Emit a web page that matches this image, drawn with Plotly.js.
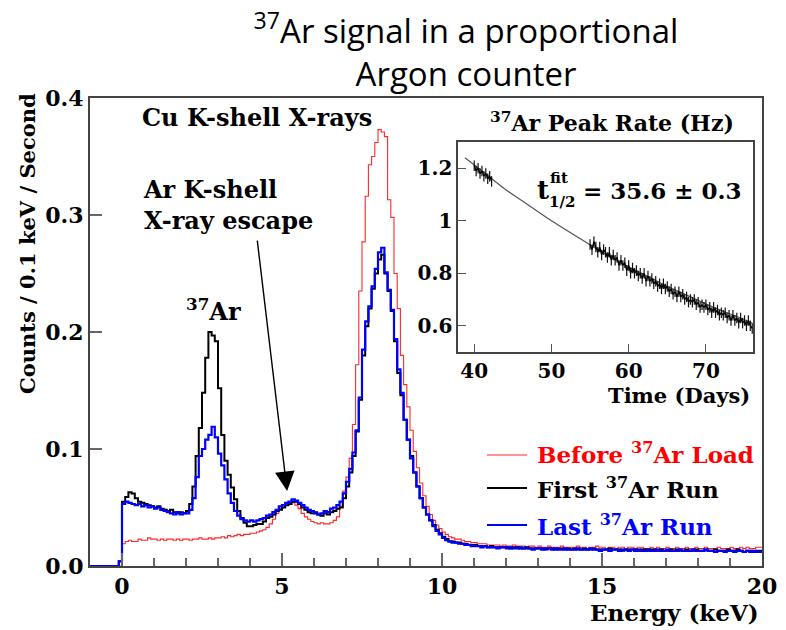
<!DOCTYPE html>
<html><head><meta charset="utf-8">
<script src="https://cdn.plot.ly/plotly-3.0.1.min.js"></script>
<style>body{margin:0;padding:0;background:#fff}#chart{width:786px;height:630px}</style>
</head><body><div id="chart"></div>
<script>
// ---- Histogram data: 0.1 keV bins starting at -1.0 keV (rows = 1 keV) ----
const binStart = -1.0;
const binWidth = 0.1;
const beforeLoad = [
 0,0,0,0,0,0,0,0,0,0,
 0.019,0.021,0.022,0.021,0.021,0.023,0.022,0.022,0.024,0.023,
 0.023,0.022,0.023,0.022,0.023,0.023,0.022,0.023,0.022,0.023,
 0.023,0.022,0.023,0.023,0.024,0.023,0.023,0.024,0.023,0.024,
 0.024,0.025,0.024,0.026,0.025,0.026,0.027,0.026,0.027,0.027,
 0.028,0.028,0.029,0.030,0.031,0.033,0.036,0.040,0.045,0.049,
 0.052,0.054,0.055,0.054,0.052,0.049,0.045,0.042,0.040,0.038,
 0.037,0.036,0.037,0.036,0.036,0.037,0.039,0.042,0.051,0.064,
 0.076,0.092,0.121,0.172,0.235,0.277,0.316,0.343,0.350,0.362,
 0.373,0.371,0.367,0.313,0.298,0.250,0.220,0.180,0.155,0.136,
 0.116,0.098,0.084,0.071,0.060,0.051,0.044,0.039,0.035,0.032,
 0.029,0.027,0.025,0.024,0.023,0.023,0.022,0.021,0.021,0.020,
 0.020,0.019,0.019,0.019,0.018,0.018,0.018,0.018,0.017,0.018,
 0.017,0.017,0.018,0.017,0.017,0.017,0.016,0.017,0.017,0.016,
 0.017,0.016,0.016,0.017,0.016,0.016,0.016,0.017,0.016,0.016,
 0.016,0.016,0.017,0.016,0.016,0.015,0.016,0.016,0.017,0.016,
 0.016,0.015,0.016,0.016,0.015,0.016,0.016,0.015,0.016,0.016,
 0.015,0.016,0.016,0.015,0.015,0.016,0.015,0.016,0.015,0.015,
 0.016,0.015,0.015,0.016,0.015,0.015,0.016,0.015,0.015,0.016,
 0.015,0.015,0.016,0.015,0.015,0.015,0.016,0.015,0.015,0.015,
 0.016,0.015,0.015,0.016,0.015,0.016,0.015,0.015,0.016,0.016
];
const firstRun = [
 0,0,0,0,0,0,0,0,0,0.004,
 0.055,0.059,0.063,0.062,0.058,0.055,0.054,0.053,0.052,0.051,
 0.050,0.051,0.049,0.048,0.047,0.048,0.046,0.045,0.046,0.045,
 0.047,0.053,0.068,0.094,0.118,0.148,0.178,0.200,0.197,0.192,
 0.152,0.112,0.090,0.078,0.067,0.057,0.047,0.041,0.037,0.034,
 0.034,0.035,0.036,0.036,0.038,0.041,0.042,0.044,0.047,0.048,
 0.050,0.052,0.053,0.055,0.055,0.053,0.050,0.048,0.046,0.045,
 0.046,0.044,0.043,0.045,0.044,0.046,0.047,0.049,0.050,0.058,
 0.068,0.080,0.094,0.115,0.142,0.180,0.205,0.220,0.237,0.250,
 0.262,0.266,0.250,0.235,0.218,0.192,0.165,0.146,0.125,0.108,
 0.094,0.080,0.068,0.058,0.050,0.044,0.039,0.035,0.031,0.028,
 0.025,0.023,0.021,0.021,0.020,0.020,0.019,0.019,0.018,0.018,
 0.018,0.017,0.017,0.017,0.016,0.017,0.016,0.016,0.016,0.016,
 0.016,0.015,0.016,0.016,0.015,0.015,0.016,0.015,0.015,0.015,
 0.015,0.015,0.014,0.015,0.015,0.014,0.015,0.015,0.014,0.015,
 0.014,0.015,0.014,0.014,0.015,0.014,0.014,0.015,0.014,0.014,
 0.014,0.014,0.015,0.014,0.014,0.014,0.013,0.014,0.014,0.014,
 0.014,0.013,0.014,0.014,0.013,0.014,0.014,0.013,0.014,0.013,
 0.013,0.014,0.013,0.014,0.013,0.013,0.014,0.013,0.013,0.014,
 0.013,0.013,0.014,0.013,0.013,0.014,0.013,0.013,0.013,0.014,
 0.013,0.013,0.014,0.013,0.012,0.013,0.013,0.012,0.013,0.013
];
const lastRun = [
 0,0,0,0,0,0,0,0,0,0.004,
 0.053,0.055,0.054,0.053,0.052,0.053,0.051,0.052,0.050,0.051,
 0.049,0.050,0.048,0.047,0.046,0.045,0.044,0.046,0.044,0.045,
 0.045,0.048,0.058,0.076,0.094,0.100,0.108,0.112,0.119,0.110,
 0.096,0.086,0.074,0.062,0.054,0.047,0.043,0.040,0.039,0.038,
 0.039,0.038,0.039,0.040,0.041,0.043,0.044,0.046,0.048,0.051,
 0.052,0.054,0.055,0.057,0.056,0.054,0.052,0.050,0.048,0.047,
 0.045,0.044,0.045,0.047,0.046,0.049,0.050,0.052,0.055,0.062,
 0.072,0.083,0.097,0.116,0.144,0.185,0.209,0.222,0.239,0.254,
 0.268,0.272,0.251,0.236,0.219,0.194,0.168,0.148,0.125,0.108,
 0.092,0.080,0.068,0.058,0.050,0.044,0.039,0.034,0.030,0.027,
 0.024,0.022,0.021,0.020,0.020,0.019,0.019,0.018,0.018,0.017,
 0.017,0.017,0.016,0.017,0.016,0.016,0.016,0.015,0.016,0.016,
 0.015,0.016,0.015,0.015,0.016,0.015,0.015,0.015,0.014,0.015,
 0.015,0.014,0.015,0.015,0.014,0.015,0.014,0.014,0.015,0.014,
 0.014,0.014,0.015,0.014,0.014,0.014,0.015,0.014,0.014,0.013,
 0.014,0.014,0.013,0.014,0.014,0.013,0.014,0.014,0.013,0.014,
 0.013,0.014,0.013,0.013,0.014,0.013,0.013,0.014,0.013,0.013,
 0.014,0.013,0.013,0.013,0.014,0.013,0.013,0.013,0.014,0.013,
 0.013,0.013,0.014,0.013,0.013,0.012,0.013,0.013,0.012,0.013,
 0.013,0.012,0.013,0.013,0.012,0.013,0.012,0.013,0.012,0.012
];
// ---- Inset: 37Ar peak rate vs time ----
const cluster1Start = 40.0, clusterStep = 0.25;
const cluster1Rate = [1.21,1.19,1.20,1.18,1.19,1.17,1.18,1.16,1.17,1.15];
const cluster2Start = 55.0;
const cluster2Rate = [
 0.91,0.89,0.92,0.90,0.88,0.90,0.87,0.89,0.88,0.86,0.88,0.85,0.87,0.85,0.86,0.83,
 0.85,0.83,0.84,0.81,0.83,0.80,0.82,0.80,0.81,0.79,0.80,0.78,0.80,0.77,0.79,0.77,
 0.78,0.76,0.77,0.75,0.76,0.74,0.76,0.74,0.75,0.73,0.74,0.72,0.73,0.71,0.73,0.71,
 0.72,0.70,0.71,0.69,0.70,0.69,0.70,0.68,0.69,0.67,0.68,0.67,0.68,0.66,0.67,0.65,
 0.67,0.65,0.66,0.64,0.65,0.64,0.65,0.63,0.64,0.62,0.64,0.62,0.63,0.61,0.63,0.61,
 0.62,0.60,0.62,0.60,0.59
];
const rateErr = 0.02;
const fitDays = [38.8,41,44,47,50,53,56,59,62,65,68,71,74,76];
const fitRate = [1.24,1.19,1.12,1.06,1.00,0.945,0.89,0.84,0.795,0.75,0.71,0.67,0.635,0.61];

const xTickVals = [0,5,10,15,20];
const yTickVals = [0,0.1,0.2,0.3,0.4];
const insetYTicks = [0.6,0.8,1,1.2];
const insetYText = ['0.6','0.8','1','1.2'];

function histXY(vals){
  const xs=[], ys=[];
  vals.forEach((v,i)=>{ xs.push(+(binStart+i*binWidth).toFixed(2)); ys.push(v); });
  xs.push(+(binStart+vals.length*binWidth).toFixed(2)); ys.push(vals[vals.length-1]);
  return {x:xs,y:ys};
}
function seq(start, step, n){ const a=[]; for(let i=0;i<n;i++) a.push(+(start+i*step).toFixed(3)); return a; }

const hR=histXY(beforeLoad), hB=histXY(firstRun), hL=histXY(lastRun);
const SERIF='DejaVu Serif';
const traces = [
  {x:hR.x,y:hR.y,type:'scatter',mode:'lines',line:{shape:'hv',color:'rgb(255,40,40)',width:1.1},name:'Before 37Ar Load',showlegend:false},
  {x:hB.x,y:hB.y,type:'scatter',mode:'lines',line:{shape:'hv',color:'#000',width:2},name:'First 37Ar Run',showlegend:false},
  {x:hL.x,y:hL.y,type:'scatter',mode:'lines',line:{shape:'hv',color:'rgb(0,0,255)',width:2.2},name:'Last 37Ar Run',showlegend:false},
  {x:fitDays,y:fitRate,xaxis:'x2',yaxis:'y2',type:'scatter',mode:'lines',line:{color:'#555',width:1.2,shape:'spline'},showlegend:false,name:'fit'},
  {x:seq(cluster1Start,clusterStep,cluster1Rate.length),y:cluster1Rate,xaxis:'x2',yaxis:'y2',type:'scatter',mode:'lines',
   line:{color:'#000',width:1.3},error_y:{type:'constant',value:rateErr,color:'#111',thickness:1.2,width:0},showlegend:false,name:'rate 1'},
  {x:seq(cluster2Start,clusterStep,cluster2Rate.length),y:cluster2Rate,xaxis:'x2',yaxis:'y2',type:'scatter',mode:'lines',
   line:{color:'#000',width:1.3},error_y:{type:'constant',value:rateErr,color:'#111',thickness:1.2,width:0},showlegend:false,name:'rate 2'}
];

const L=90,R=762,T=98,B=566;
const PX=x=>(x-L)/(R-L), PY=y=>(B-y)/(B-T);
const bold=(size,color)=>({family:SERIF,size:size,color:color||'#000',weight:'bold'});
function ann(text,x,y,size,opts){
  return Object.assign({text:text,xref:'paper',yref:'paper',x:PX(x),y:PY(y),showarrow:false,font:bold(size),xanchor:'center',yanchor:'middle'},opts||{});
}
const annotations = [
  ann('Cu K-shell X-rays',257,118,24),
  ann('Ar K-shell<br>X-ray escape',141,205,24,{xanchor:'left',align:'left'}),
  ann('<sup>37</sup>Ar',213,310,24),
  {text:'',xref:'x',yref:'y',x:5.16,y:0.064,ax:-30,ay:-252,showarrow:true,arrowhead:2,arrowsize:2.8,arrowwidth:1.4,arrowcolor:'#000',standoff:0},
  ann('Before <sup>37</sup>Ar Load',535,453,23,{xanchor:'left',font:bold(23,'rgb(255,0,0)')}),
  ann('First <sup>37</sup>Ar Run',535,488,23,{xanchor:'left'}),
  ann('Last <sup>37</sup>Ar Run',535,525,23,{xanchor:'left',font:bold(23,'rgb(0,0,255)')}),
  ann('Counts / 0.1 keV / Second',27,244,21,{textangle:-90}),
  ann('Energy (keV)',761,612,23,{xanchor:'right'}),
  ann('<sup>37</sup>Ar Peak Rate (Hz)',612,122,22),
  ann('Time (Days)',752,395,21,{xanchor:'right'}),
  ann('t',543,190,26),
  ann('fit',559,178,15),
  ann('1/2',562,202,15),
  ann('= 35.6 ± 0.3',662,190,23)
];
const shapes = [
  {type:'line',xref:'paper',yref:'paper',x0:PX(487),x1:PX(527),y0:PY(455),y1:PY(455),line:{color:'rgb(255,40,40)',width:1.2}},
  {type:'line',xref:'paper',yref:'paper',x0:PX(487),x1:PX(527),y0:PY(488),y1:PY(488),line:{color:'#000',width:2}},
  {type:'line',xref:'paper',yref:'paper',x0:PX(487),x1:PX(527),y0:PY(525),y1:PY(525),line:{color:'rgb(0,0,255)',width:2}}
];
const axisLine = {showline:true,linecolor:'#444',linewidth:2,mirror:true,showgrid:false,zeroline:false};
const layout = {
  width:786,height:630,
  margin:{l:L,r:786-R,t:T,b:630-B,pad:0},
  paper_bgcolor:'#fff',plot_bgcolor:'#fff',
  title:{text:'<sup>37</sup>Ar signal in a proportional<br>Argon counter',font:{family:'Open Sans',size:33,color:'#000'},
         x:PX(466),xanchor:'center',xref:'paper',y:0.932,yanchor:'top',yref:'container'},
  showlegend:false,
  xaxis:Object.assign({},axisLine,{range:[-1,20],tickmode:'array',tickvals:xTickVals,ticks:'inside',ticklen:13,tickwidth:1.5,tickcolor:'#666',
        minor:{dtick:1,tick0:0,ticks:'inside',ticklen:8,tickwidth:1.2,tickcolor:'#666',showgrid:false},
        tickfont:bold(22),domain:[0,1],anchor:'y'}),
  yaxis:Object.assign({},axisLine,{range:[0,0.4],tickmode:'array',tickvals:yTickVals,tickformat:'.1f',ticks:'inside',ticklen:12,tickwidth:1.5,tickcolor:'#666',
        tickfont:bold(22),domain:[0,1],anchor:'x'}),
  xaxis2:Object.assign({},axisLine,{linewidth:1.6,range:[37.9,76.1],dtick:10,tick0:0,ticks:'inside',ticklen:8,tickwidth:1.2,tickcolor:'#555',
        tickfont:bold(20),domain:[PX(458),PX(753)],anchor:'y2'}),
  yaxis2:Object.assign({},axisLine,{linewidth:1.6,range:[0.5,1.3],tickmode:'array',tickvals:insetYTicks,ticktext:insetYText,ticks:'inside',ticklen:8,tickwidth:1.2,tickcolor:'#555',
        tickfont:bold(20),domain:[PY(352),PY(142)],anchor:'x2'}),
  annotations:annotations,
  shapes:shapes
};
Plotly.newPlot('chart',traces,layout,{displayModeBar:false,staticPlot:true});
</script></body></html>
